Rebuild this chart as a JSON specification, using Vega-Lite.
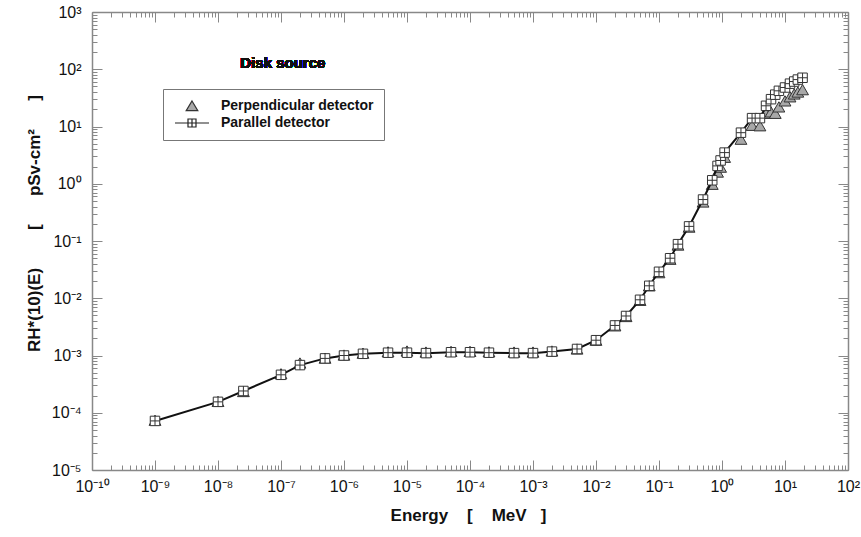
{
  "$schema": "https://vega.github.io/schema/vega-lite/v6.json",
  "width": 756,
  "height": 458,
  "autosize": {"type": "none"},
  "padding": {"left": 92, "top": 12, "right": 13, "bottom": 67},
  "background": "white",
  "config": {"font": "Liberation Sans", "view": {"stroke": null}},
  "datasets": {
    "pts": [
      {"series": "Parallel detector", "energy": 1e-9, "value": 7.2e-5},
      {"series": "Parallel detector", "energy": 1e-8, "value": 1.55e-4},
      {"series": "Parallel detector", "energy": 2.53e-8, "value": 2.4e-4},
      {"series": "Parallel detector", "energy": 1e-7, "value": 4.6e-4},
      {"series": "Parallel detector", "energy": 2e-7, "value": 6.8e-4},
      {"series": "Parallel detector", "energy": 5e-7, "value": 8.9e-4},
      {"series": "Parallel detector", "energy": 1e-6, "value": 1.0e-3},
      {"series": "Parallel detector", "energy": 2e-6, "value": 1.07e-3},
      {"series": "Parallel detector", "energy": 5e-6, "value": 1.12e-3},
      {"series": "Parallel detector", "energy": 1e-5, "value": 1.12e-3},
      {"series": "Parallel detector", "energy": 2e-5, "value": 1.1e-3},
      {"series": "Parallel detector", "energy": 5e-5, "value": 1.14e-3},
      {"series": "Parallel detector", "energy": 1e-4, "value": 1.14e-3},
      {"series": "Parallel detector", "energy": 2e-4, "value": 1.12e-3},
      {"series": "Parallel detector", "energy": 5e-4, "value": 1.1e-3},
      {"series": "Parallel detector", "energy": 1e-3, "value": 1.1e-3},
      {"series": "Parallel detector", "energy": 2e-3, "value": 1.17e-3},
      {"series": "Parallel detector", "energy": 5e-3, "value": 1.3e-3},
      {"series": "Parallel detector", "energy": 1e-2, "value": 1.85e-3},
      {"series": "Parallel detector", "energy": 2e-2, "value": 3.35e-3},
      {"series": "Parallel detector", "energy": 3e-2, "value": 4.9e-3},
      {"series": "Parallel detector", "energy": 5e-2, "value": 9.4e-3},
      {"series": "Parallel detector", "energy": 7e-2, "value": 1.65e-2},
      {"series": "Parallel detector", "energy": 0.1, "value": 2.9e-2},
      {"series": "Parallel detector", "energy": 0.15, "value": 5.0e-2},
      {"series": "Parallel detector", "energy": 0.2, "value": 8.8e-2},
      {"series": "Parallel detector", "energy": 0.3, "value": 0.18},
      {"series": "Parallel detector", "energy": 0.5, "value": 0.53},
      {"series": "Parallel detector", "energy": 0.7, "value": 1.15},
      {"series": "Parallel detector", "energy": 0.85, "value": 2.05},
      {"series": "Parallel detector", "energy": 0.95, "value": 2.55},
      {"series": "Parallel detector", "energy": 1.1, "value": 3.5},
      {"series": "Parallel detector", "energy": 2, "value": 7.8},
      {"series": "Parallel detector", "energy": 3, "value": 14},
      {"series": "Parallel detector", "energy": 4, "value": 14},
      {"series": "Parallel detector", "energy": 5, "value": 23},
      {"series": "Parallel detector", "energy": 6, "value": 30},
      {"series": "Parallel detector", "energy": 7, "value": 36},
      {"series": "Parallel detector", "energy": 8, "value": 42},
      {"series": "Parallel detector", "energy": 10, "value": 48},
      {"series": "Parallel detector", "energy": 12, "value": 56},
      {"series": "Parallel detector", "energy": 14, "value": 61},
      {"series": "Parallel detector", "energy": 16, "value": 66},
      {"series": "Parallel detector", "energy": 19, "value": 71},
      {"series": "Perpendicular detector", "energy": 1e-9, "value": 7.4e-5},
      {"series": "Perpendicular detector", "energy": 1e-8, "value": 1.58e-4},
      {"series": "Perpendicular detector", "energy": 2.53e-8, "value": 2.35e-4},
      {"series": "Perpendicular detector", "energy": 1e-7, "value": 4.8e-4},
      {"series": "Perpendicular detector", "energy": 2e-7, "value": 7.4e-4},
      {"series": "Perpendicular detector", "energy": 5e-7, "value": 9.0e-4},
      {"series": "Perpendicular detector", "energy": 1e-6, "value": 1.02e-3},
      {"series": "Perpendicular detector", "energy": 2e-6, "value": 1.1e-3},
      {"series": "Perpendicular detector", "energy": 5e-6, "value": 1.16e-3},
      {"series": "Perpendicular detector", "energy": 1e-5, "value": 1.2e-3},
      {"series": "Perpendicular detector", "energy": 2e-5, "value": 1.15e-3},
      {"series": "Perpendicular detector", "energy": 5e-5, "value": 1.18e-3},
      {"series": "Perpendicular detector", "energy": 1e-4, "value": 1.18e-3},
      {"series": "Perpendicular detector", "energy": 2e-4, "value": 1.16e-3},
      {"series": "Perpendicular detector", "energy": 5e-4, "value": 1.15e-3},
      {"series": "Perpendicular detector", "energy": 1e-3, "value": 1.15e-3},
      {"series": "Perpendicular detector", "energy": 2e-3, "value": 1.2e-3},
      {"series": "Perpendicular detector", "energy": 5e-3, "value": 1.3e-3},
      {"series": "Perpendicular detector", "energy": 1e-2, "value": 1.85e-3},
      {"series": "Perpendicular detector", "energy": 2e-2, "value": 3.3e-3},
      {"series": "Perpendicular detector", "energy": 3e-2, "value": 4.8e-3},
      {"series": "Perpendicular detector", "energy": 5e-2, "value": 9.2e-3},
      {"series": "Perpendicular detector", "energy": 7e-2, "value": 1.65e-2},
      {"series": "Perpendicular detector", "energy": 0.1, "value": 2.8e-2},
      {"series": "Perpendicular detector", "energy": 0.15, "value": 4.8e-2},
      {"series": "Perpendicular detector", "energy": 0.2, "value": 8.5e-2},
      {"series": "Perpendicular detector", "energy": 0.3, "value": 0.175},
      {"series": "Perpendicular detector", "energy": 0.5, "value": 0.48},
      {"series": "Perpendicular detector", "energy": 0.7, "value": 0.98},
      {"series": "Perpendicular detector", "energy": 0.85, "value": 1.6},
      {"series": "Perpendicular detector", "energy": 0.95, "value": 1.95},
      {"series": "Perpendicular detector", "energy": 1.1, "value": 2.9},
      {"series": "Perpendicular detector", "energy": 2, "value": 6.0},
      {"series": "Perpendicular detector", "energy": 3, "value": 10.5},
      {"series": "Perpendicular detector", "energy": 4, "value": 10.3},
      {"series": "Perpendicular detector", "energy": 5, "value": 17},
      {"series": "Perpendicular detector", "energy": 6, "value": 18},
      {"series": "Perpendicular detector", "energy": 7, "value": 17},
      {"series": "Perpendicular detector", "energy": 8, "value": 22},
      {"series": "Perpendicular detector", "energy": 10, "value": 28},
      {"series": "Perpendicular detector", "energy": 12, "value": 33},
      {"series": "Perpendicular detector", "energy": 14, "value": 37},
      {"series": "Perpendicular detector", "energy": 16, "value": 40},
      {"series": "Perpendicular detector", "energy": 19, "value": 44}
    ]
  },
  "data": {"name": "pts"},
  "layer": [
    {
      "transform": [{"filter": "datum.series === 'Perpendicular detector'"}],
      "mark": {"type": "point", "filled": true, "opacity": 1, "shape": "triangle-up", "size": 140, "fill": "#a8a8a8", "stroke": "#333333", "strokeWidth": 1},
      "encoding": {
        "x": {
          "field": "energy", "type": "quantitative",
          "scale": {"type": "log", "domain": [1e-10, 100], "nice": false},
          "axis": {
            "orient": "bottom",
            "title": "Energy\u00a0\u00a0\u00a0\u00a0[\u00a0\u00a0\u00a0\u00a0MeV\u00a0\u00a0\u00a0]",
            "titleFont": "Liberation Sans", "titleFontSize": 17, "titleFontWeight": "bold", "titleColor": "#111111",
            "titleX": 376, "titleY": 45, "titleBaseline": "middle", "titleAnchor": null,
            "values": [1e-10,1e-9,1e-8,1e-7,1e-6,1e-5,1e-4,1e-3,1e-2,0.1,1,10,100],
            "labelExpr": "['10⁻¹⁰','10⁻⁹','10⁻⁸','10⁻⁷','10⁻⁶','10⁻⁵','10⁻⁴','10⁻³','10⁻²','10⁻¹','10⁰','10¹','10²','10³'][round(log(datum.value)/LN10)+10]",
            "tickSize": -10,
            "labelOverlap": false, "labelFlush": false, "labelBound": false,
            "labelPadding": 18, "labelFontSize": 16, "labelColor": "#111111", "labelFont": "Liberation Sans",
            "grid": false, "domainColor": "#888888", "tickColor": "#888888", "domainWidth": 1.5, "tickWidth": 1
          }
        },
        "y": {
          "field": "value", "type": "quantitative",
          "scale": {"type": "log", "domain": [1e-5, 1000], "nice": false},
          "axis": {
            "orient": "left",
            "title": "RH*(10)(E)\u00a0\u00a0\u00a0\u00a0\u00a0\u00a0\u00a0\u00a0[\u00a0\u00a0\u00a0\u00a0\u00a0\u00a0pSv-cm²\u00a0\u00a0\u00a0\u00a0\u00a0\u00a0]",
            "titleFont": "Liberation Sans", "titleFontSize": 17, "titleFontWeight": "bold", "titleColor": "#111111",
            "titleX": -58, "titleY": 211, "titleAngle": -90, "titleBaseline": "middle", "titleAlign": "center", "titleAnchor": null,
            "values": [1e-5,1e-4,1e-3,1e-2,0.1,1,10,100,1000],
            "labelExpr": "['10⁻¹⁰','10⁻⁹','10⁻⁸','10⁻⁷','10⁻⁶','10⁻⁵','10⁻⁴','10⁻³','10⁻²','10⁻¹','10⁰','10¹','10²','10³'][round(log(datum.value)/LN10)+10]",
            "tickSize": -10,
            "labelOverlap": false, "labelFlush": false, "labelBound": false,
            "labelPadding": 21, "labelFontSize": 16, "labelColor": "#111111", "labelFont": "Liberation Sans",
            "grid": false, "domainColor": "#888888", "tickColor": "#888888", "domainWidth": 1.5, "tickWidth": 1
          }
        }
      }
    },
    {
      "transform": [{"filter": "datum.series === 'Parallel detector'"}],
      "mark": {"type": "line", "color": "#111111", "strokeWidth": 2},
      "encoding": {
        "x": {
          "field": "energy", "type": "quantitative",
          "scale": {"type": "log", "domain": [1e-10, 100], "nice": false},
          "axis": {
            "orient": "top", "title": null, "labels": false,
            "values": [1e-10,1e-9,1e-8,1e-7,1e-6,1e-5,1e-4,1e-3,1e-2,0.1,1,10,100],
            "tickSize": -10,
            "grid": false, "domainColor": "#888888", "tickColor": "#888888", "domainWidth": 1.5, "tickWidth": 1
          }
        },
        "y": {
          "field": "value", "type": "quantitative",
          "scale": {"type": "log", "domain": [1e-5, 1000], "nice": false},
          "axis": {
            "orient": "right", "title": null, "labels": false,
            "values": [1e-5,1e-4,1e-3,1e-2,0.1,1,10,100,1000],
            "tickSize": -10,
            "grid": false, "domainColor": "#888888", "tickColor": "#888888", "domainWidth": 1.5, "tickWidth": 1
          }
        }
      }
    },
    {
      "transform": [{"filter": "datum.series === 'Parallel detector'"}],
      "mark": {"type": "point", "filled": true, "opacity": 1, "shape": "M-1,-1H1V1H-1ZM0,-1V1M-1,0H1", "size": 90, "fill": "#ffffff", "stroke": "#333333", "strokeWidth": 1},
      "encoding": {
        "x": {
          "field": "energy", "type": "quantitative",
          "axis": {
            "orient": "bottom", "title": null, "labels": false, "domain": false,
            "values": [2e-10,3e-10,4e-10,5e-10,6e-10,7e-10,8e-10,9e-10,2e-9,3e-9,4e-9,5e-9,6e-9,7e-9,8e-9,9e-9,2e-8,3e-8,4e-8,5e-8,6e-8,7e-8,8e-8,9e-8,2e-7,3e-7,4e-7,5e-7,6e-7,7e-7,8e-7,9e-7,2e-6,3e-6,4e-6,5e-6,6e-6,7e-6,8e-6,9e-6,2e-5,3e-5,4e-5,5e-5,6e-5,7e-5,8e-5,9e-5,2e-4,3e-4,4e-4,5e-4,6e-4,7e-4,8e-4,9e-4,2e-3,3e-3,4e-3,5e-3,6e-3,7e-3,8e-3,9e-3,2e-2,3e-2,4e-2,5e-2,6e-2,7e-2,8e-2,9e-2,0.2,0.3,0.4,0.5,0.6,0.7,0.8,0.9,2,3,4,5,6,7,8,9,20,30,40,50,60,70,80,90],
            "tickSize": -5, "grid": false, "tickColor": "#888888", "tickWidth": 1
          }
        },
        "y": {
          "field": "value", "type": "quantitative",
          "axis": {
            "orient": "left", "title": null, "labels": false, "domain": false,
            "values": [2e-5,3e-5,4e-5,5e-5,6e-5,7e-5,8e-5,9e-5,2e-4,3e-4,4e-4,5e-4,6e-4,7e-4,8e-4,9e-4,2e-3,3e-3,4e-3,5e-3,6e-3,7e-3,8e-3,9e-3,2e-2,3e-2,4e-2,5e-2,6e-2,7e-2,8e-2,9e-2,0.2,0.3,0.4,0.5,0.6,0.7,0.8,0.9,2,3,4,5,6,7,8,9,20,30,40,50,60,70,80,90,200,300,400,500,600,700,800,900],
            "tickSize": -5, "grid": false, "tickColor": "#888888", "tickWidth": 1
          }
        }
      }
    },
    {
      "mark": {"type": "text", "font": "Liberation Sans", "fontWeight": "bold", "fontSize": 15, "color": "#111111", "align": "center", "baseline": "middle"},
      "encoding": {
        "x": {
          "datum": 1.07e-7, "type": "quantitative",
          "axis": {
            "orient": "top", "title": null, "labels": false, "domain": false,
            "values": [2e-10,3e-10,4e-10,5e-10,6e-10,7e-10,8e-10,9e-10,2e-9,3e-9,4e-9,5e-9,6e-9,7e-9,8e-9,9e-9,2e-8,3e-8,4e-8,5e-8,6e-8,7e-8,8e-8,9e-8,2e-7,3e-7,4e-7,5e-7,6e-7,7e-7,8e-7,9e-7,2e-6,3e-6,4e-6,5e-6,6e-6,7e-6,8e-6,9e-6,2e-5,3e-5,4e-5,5e-5,6e-5,7e-5,8e-5,9e-5,2e-4,3e-4,4e-4,5e-4,6e-4,7e-4,8e-4,9e-4,2e-3,3e-3,4e-3,5e-3,6e-3,7e-3,8e-3,9e-3,2e-2,3e-2,4e-2,5e-2,6e-2,7e-2,8e-2,9e-2,0.2,0.3,0.4,0.5,0.6,0.7,0.8,0.9,2,3,4,5,6,7,8,9,20,30,40,50,60,70,80,90],
            "tickSize": -5, "grid": false, "tickColor": "#888888", "tickWidth": 1
          }
        },
        "y": {
          "datum": 130, "type": "quantitative",
          "axis": {
            "orient": "right", "title": null, "labels": false, "domain": false,
            "values": [2e-5,3e-5,4e-5,5e-5,6e-5,7e-5,8e-5,9e-5,2e-4,3e-4,4e-4,5e-4,6e-4,7e-4,8e-4,9e-4,2e-3,3e-3,4e-3,5e-3,6e-3,7e-3,8e-3,9e-3,2e-2,3e-2,4e-2,5e-2,6e-2,7e-2,8e-2,9e-2,0.2,0.3,0.4,0.5,0.6,0.7,0.8,0.9,2,3,4,5,6,7,8,9,20,30,40,50,60,70,80,90,200,300,400,500,600,700,800,900],
            "tickSize": -5, "grid": false, "tickColor": "#888888", "tickWidth": 1
          }
        },
        "text": {"value": "Disk source"}
      }
    },
    {
      "transform": [{"filter": "datum.energy < 0"}],
      "mark": {"type": "point", "filled": true, "opacity": 1, "strokeWidth": 1.2},
      "encoding": {
        "x": {"field": "energy", "type": "quantitative", "axis": null},
        "y": {"field": "value", "type": "quantitative", "axis": null},
        "shape": {
          "field": "series", "type": "nominal",
          "scale": {"domain": ["Perpendicular detector", "Parallel detector"], "range": ["M0,-1.25L1.45,1.15L-1.45,1.15Z", "M-4.25,0H-1M1,0H4.25M-1,-1H1V1H-1ZM0,-1V1M-1,0H1"]},
          "legend": {
            "orient": "none", "legendX": 71, "legendY": 77, "title": null,
            "strokeColor": "#777777", "padding": 10, "fillColor": "white",
            "symbolSize": 64, "symbolOffset": 12, "labelOffset": 22, "rowPadding": 3,
            "symbolStrokeWidth": 1.2,
            "labelFont": "Liberation Sans", "labelFontWeight": "bold", "labelFontSize": 14, "labelColor": "#111111"
          }
        },
        "fill": {
          "field": "series", "type": "nominal",
          "scale": {"domain": ["Perpendicular detector", "Parallel detector"], "range": ["#a8a8a8", "#ffffff"]},
          "legend": {
            "orient": "none", "legendX": 71, "legendY": 77, "title": null,
            "strokeColor": "#777777", "padding": 10, "fillColor": "white",
            "symbolSize": 64, "symbolOffset": 12, "labelOffset": 22, "rowPadding": 3,
            "symbolStrokeWidth": 1.2,
            "labelFont": "Liberation Sans", "labelFontWeight": "bold", "labelFontSize": 14, "labelColor": "#111111"
          }
        },
        "stroke": {
          "field": "series", "type": "nominal",
          "scale": {"domain": ["Perpendicular detector", "Parallel detector"], "range": ["#333333", "#222222"]},
          "legend": {
            "orient": "none", "legendX": 71, "legendY": 77, "title": null,
            "strokeColor": "#777777", "padding": 10, "fillColor": "white",
            "symbolSize": 64, "symbolOffset": 12, "labelOffset": 22, "rowPadding": 3,
            "symbolStrokeWidth": 1.2,
            "labelFont": "Liberation Sans", "labelFontWeight": "bold", "labelFontSize": 14, "labelColor": "#111111"
          }
        }
      }
    }
  ],
  "resolve": {"axis": {"x": "independent", "y": "independent"}}
}
